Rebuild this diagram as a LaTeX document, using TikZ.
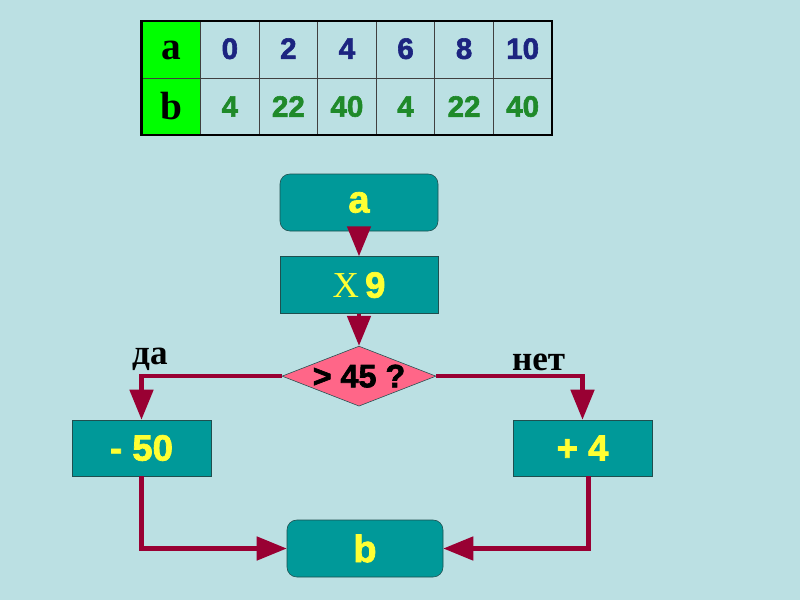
\documentclass[tikz,border=0pt]{standalone}
\usepackage{fontspec}
\setmainfont{Liberation Serif}
\newfontfamily\numfont{Liberation Sans}
\newfontfamily\heavyfont[BoldFeatures={FakeBold=2}]{Liberation Sans}
\usetikzlibrary{shapes.geometric,arrows.meta,positioning}
\definecolor{bgblue}{HTML}{BBE0E3}
\definecolor{hgreen}{HTML}{00FF00}
\definecolor{navyval}{HTML}{1C2480}
\definecolor{greenval}{HTML}{1F8A2A}
\definecolor{boxteal}{HTML}{009999}
\definecolor{boxedge}{HTML}{1F4F4F}
\definecolor{numyellow}{HTML}{FFFF33}
\definecolor{rosepink}{HTML}{FF6688}
\definecolor{crimson}{HTML}{990033}

\begin{document}
\begin{tikzpicture}[
  cell/.style={
    rectangle, draw=black!75, line width=0.6pt,
    minimum width=1.464cm, minimum height=1.42cm,
    inner sep=0pt, font=\heavyfont\bfseries\fontsize{21}{21}\selectfont
  },
  hcell/.style={
    cell, fill=hgreen, text=black,
    font=\bfseries\fontsize{28}{28}\selectfont
  },
  box/.style={
    rectangle, draw=boxedge, thin, fill=boxteal, text=numyellow,
    minimum width=3.475cm, minimum height=1.4cm, inner sep=0pt,
    font=\heavyfont\bfseries\fontsize{26}{26}\selectfont
  },
  rbox/.style={box, rounded corners=7pt, minimum width=3.95cm, minimum height=1.425cm},
  decision/.style={
    diamond, draw=boxedge, thin, fill=rosepink, inner sep=0pt,
    minimum width=3.85cm, minimum height=1.5cm
  },
  arr/.style={-{Triangle[length=0.75cm, width=0.58cm]}, line width=3pt, crimson},
  lbl/.style={text=black, font=\bfseries\fontsize{25}{25}\selectfont}
]
\fill[bgblue] (0,0) rectangle (20,-15);
\useasboundingbox (0,0) rectangle (20,-15);

\node[hcell] (ha) at (4.282,-1.25)   {a};
\node[hcell] (hb) at (4.282,-2.6625) {b};
\foreach \v [count=\i] in {0,2,4,6,8,10}
  \node[cell, text=navyval] (a\i) at ({4.282+\i*1.464},-1.25) {\raisebox{2pt}{\v}};
\foreach \v [count=\i] in {4,22,40,4,22,40}
  \node[cell, text=greenval] (b\i) at ({4.282+\i*1.464},-2.6625) {\v};
\draw[line width=1.6pt] (ha.north west) rectangle (b6.south east);

\node[rbox, font=\heavyfont\bfseries\fontsize{27}{27}\selectfont] (a) at (8.975,-5.0625) {a};
\node[box, below=0.625cm of a, minimum width=3.95cm, minimum height=1.425cm] (x9)
  {{\rmfamily\mdseries X}\,9};
\node[decision, below=0.8cm of x9,
  label={[font=\heavyfont\bfseries\fontsize{23}{23}\selectfont]center:{> 45 ?}}] (dia) {};
\node[box] (minus) at (3.5375,-11.2)  {- 50};
\node[box] (plus)  at (14.5625,-11.2) {+ 4};
\node[rbox, minimum width=3.9cm, font=\heavyfont\bfseries\fontsize{27}{27}\selectfont] (b) at (9.125,-13.7125) {b};

\draw[arr] (a) -- (x9);
\draw[arr] (x9) -- (dia);
\draw[arr] (dia.west) -| node[lbl, pos=0.47, above=-1pt] {да} (minus.north);
\draw[arr] (dia.east) -| node[lbl, pos=0.35, above=-1pt] {нет} (plus.north);
\draw[arr] (minus.south) |- (b.west);
\draw[arr] ([xshift=0.15cm]plus.south) |- (b.east);
\end{tikzpicture}
\end{document}
